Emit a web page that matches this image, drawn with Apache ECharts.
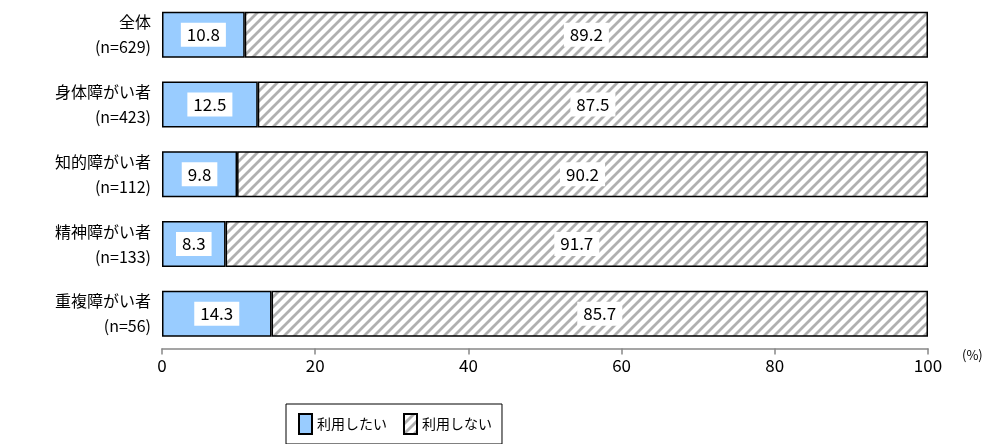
<!DOCTYPE html>
<html><head><meta charset="utf-8">
<script src="https://cdn.jsdelivr.net/npm/echarts@6/dist/echarts.min.js"></script>
<style>html,body{margin:0;padding:0;background:#fff}#c{width:988px;height:444px}</style>
</head><body><div id="c"></div>
<script>
const categories = ['全体','身体障がい者','知的障がい者','精神障がい者','重複障がい者'];
const nLabels = ['(n=629)','(n=423)','(n=112)','(n=133)','(n=56)'];
const seriesNames = ['利用したい','利用しない'];
const useValues = [10.8,12.5,9.8,8.3,14.3];
const notUseValues = [89.2,87.5,90.2,91.7,85.7];
const FONT = '"Noto Sans CJK JP", sans-serif';

const cv = document.createElement('canvas');
cv.width = 10; cv.height = 10;
const ctx = cv.getContext('2d');
ctx.fillStyle = '#fff'; ctx.fillRect(0,0,10,10);
ctx.strokeStyle = '#b0b0b0'; ctx.lineWidth = 2.8;
ctx.beginPath();
ctx.moveTo(-2,12); ctx.lineTo(12,-2);
ctx.moveTo(-7,7); ctx.lineTo(7,-7);
ctx.moveTo(3,17); ctx.lineTo(17,3);
ctx.stroke();

const chart = echarts.init(document.getElementById('c'), null, {renderer:'canvas'});
const labelCfg = {
  show: true, position: 'inside', color: '#000', fontSize: 17, fontFamily: FONT,
  backgroundColor: '#fff', padding: [4,6,3,6],
  formatter: p => p.value.toFixed(1)
};
chart.setOption({
  animation: false,
  textStyle: {fontFamily: FONT},
  grid: {left: 162, right: 60, top: -4.5, bottom: 95.5},
  xAxis: {
    type: 'value', min: 0, max: 100, interval: 20,
    splitLine: {show: false},
    axisLine: {show: true, lineStyle: {color: '#888', width: 1.5}},
    axisTick: {show: true, length: 6, lineStyle: {color: '#888', width: 1.5}},
    axisLabel: {color: '#000', fontSize: 17, margin: 9, fontFamily: FONT}
  },
  yAxis: {
    type: 'category', inverse: true, data: categories,
    axisLine: {show: false}, axisTick: {show: false},
    axisLabel: {
      margin: 11, align: 'right',
      formatter: (v, i) => '{a|' + v + '}\n{b|' + nLabels[i] + '}',
      rich: {
        a: {fontSize: 16, color: '#000', fontFamily: FONT, lineHeight: 25, align: 'right'},
        b: {fontSize: 16, color: '#000', fontFamily: FONT, lineHeight: 25, align: 'right'}
      }
    }
  },
  legend: {
    left: 286, top: 404, orient: 'horizontal',
    data: seriesNames, icon: 'rect',
    itemWidth: 13, itemHeight: 20, itemGap: 16,
    borderColor: '#000', borderWidth: 1, padding: [9, 10, 9, 12],
    textStyle: {fontSize: 14, color: '#000', fontFamily: FONT}
  },
  graphic: [{
    type: 'text', left: 962, top: 349,
    style: {text: '(%)', fontSize: 13, fill: '#000', fontFamily: FONT}
  }],
  series: [
    {
      name: seriesNames[0], type: 'bar', stack: 's', data: useValues, barWidth: '66%',
      itemStyle: {color: '#99CCFF', borderColor: '#000', borderWidth: 1.5},
      label: labelCfg
    },
    {
      name: seriesNames[1], type: 'bar', stack: 's', data: notUseValues, barWidth: '66%',
      itemStyle: {color: {image: cv, repeat: 'repeat'}, borderColor: '#000', borderWidth: 1.5},
      label: labelCfg
    }
  ]
});
</script></body></html>
